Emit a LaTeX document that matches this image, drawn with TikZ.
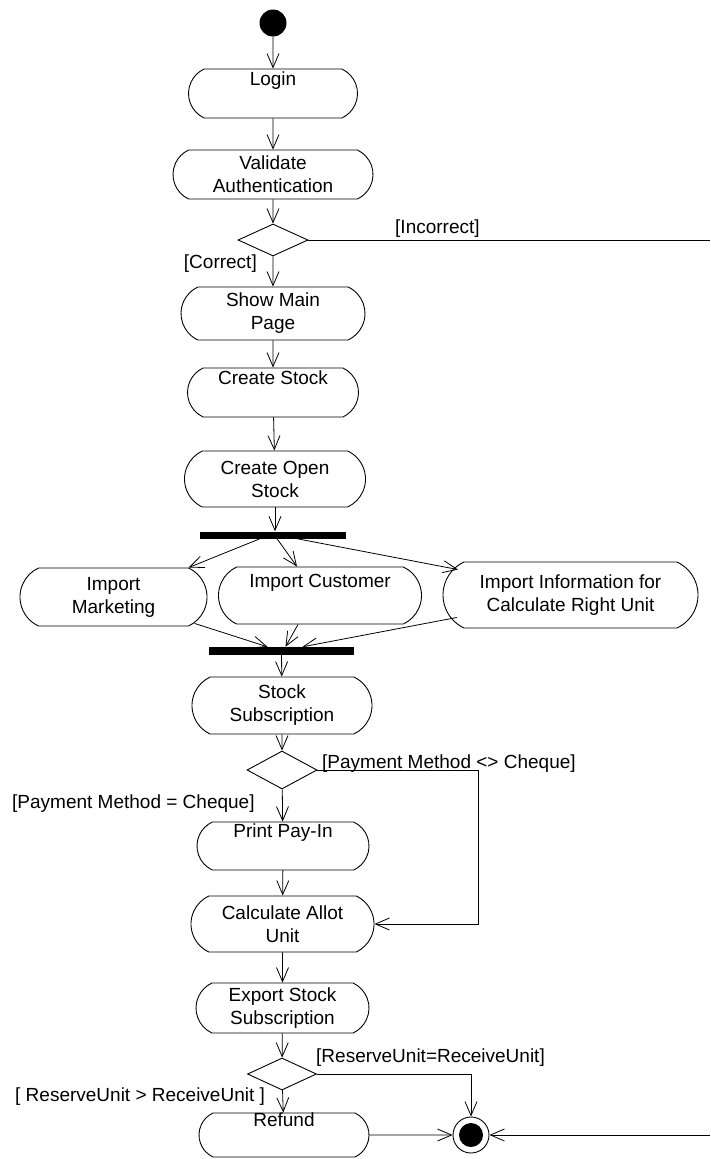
\documentclass[tikz,border=0pt]{standalone}
\usepackage{fontspec}
\setmainfont{Liberation Sans}
\usetikzlibrary{shapes.misc,shapes.geometric,arrows.meta,calc}
\begin{document}
\begin{tikzpicture}[x=1pt,y=-1pt,
  act/.style={draw, line width=0.9pt, rounded rectangle, rounded rectangle arc length=130, inner sep=0pt, align=center, font=\fontsize{19}{23}\selectfont},
  dec/.style={draw, diamond, line width=0.9pt, inner sep=0pt},
  bar/.style={fill=black, inner sep=0pt, rectangle},
  flow/.style={line width=0.8pt, -{Straight Barb[length=14pt,width=12pt,line width=0.8pt]}},
  plain/.style={line width=0.8pt},
  guard/.style={font=\fontsize{19}{23}\selectfont, inner sep=0pt},
]
\useasboundingbox (0,0) rectangle (710,1159);
% nodes
\node[circle, fill=black, minimum size=27pt, inner sep=0pt] (init) at (273,23) {};
\node[act, minimum width=169pt, minimum height=49pt] (login) at (273,93.5) {Login\\\strut};
\node[act, minimum width=200pt, minimum height=49pt] (val) at (273,174.5) {Validate\\Authentication};
\node[dec, minimum width=70pt, minimum height=32pt] (d1) at (273,240) {};
\node[act, minimum width=184pt, minimum height=53pt] (show) at (273,313.5) {Show Main\\Page};
\node[act, minimum width=171pt, minimum height=49pt] (cstock) at (273,392.5) {Create Stock\\\strut};
\node[act, minimum width=181pt, minimum height=56pt] (copen) at (275,479) {Create Open\\Stock};
\node[bar, minimum width=146pt, minimum height=7pt] (fork) at (273,535) {};
\node[act, minimum width=187pt, minimum height=58pt] (imk) at (113.5,597) {Import\\Marketing};
\node[act, minimum width=203pt, minimum height=57pt] (icu) at (320,595.5) {Import Customer\\\strut};
\node[act, minimum width=255pt, minimum height=66pt] (iinf) at (570.5,595) {Import Information for\\Calculate Right Unit};
\node[bar, minimum width=145pt, minimum height=8pt] (join) at (281.5,651) {};
\node[act, minimum width=180pt, minimum height=57pt] (ssub) at (282,705.5) {Stock\\Subscription};
\node[dec, minimum width=70pt, minimum height=38pt] (d2) at (282,770) {};
\node[act, minimum width=172pt, minimum height=48pt] (print) at (283,846) {Print Pay-In\\\strut};
\node[act, minimum width=183pt, minimum height=56pt] (calc) at (282.5,924) {Calculate Allot\\Unit};
\node[act, minimum width=173pt, minimum height=50pt] (exp) at (282.5,1008) {Export Stock\\Subscription};
\node[dec, minimum width=69pt, minimum height=32pt] (d3) at (282,1074) {};
\node[act, minimum width=170pt, minimum height=44pt] (ref) at (284,1135) {Refund\\\strut};
\node[circle, draw, line width=0.9pt, minimum size=36pt, inner sep=0pt] (final) at (471,1135) {};
\node[circle, fill=black, minimum size=24pt, inner sep=0pt] (finalin) at (final.center) {};
\coordinate (incEnd) at (710,240);
\coordinate (loopEnd) at (710,1135);
% guards
\node[guard, anchor=base west] (gInc) at (395,233) {[Incorrect]};
\node[guard, anchor=base east] (gCor) at (257,268) {[Correct]};
\node[guard, anchor=base west] (gPne) at (322,768) {[Payment Method <> Cheque]};
\node[guard, anchor=base west] (gPeq) at (12,808) {[Payment Method = Cheque]};
\node[guard, anchor=base west] (gReq) at (316,1062) {[ReserveUnit=ReceiveUnit]};
\node[guard, anchor=base west] (gRgt) at (15,1101) {[ ReserveUnit > ReceiveUnit ]};
% connectors
\draw[flow] (init) -- (login);
\draw[flow] (login) -- (val);
\draw[flow] (val) -- (d1);
\draw[plain] (d1.east) -- (incEnd);
\draw[flow] (d1) -- (show);
\draw[flow] (show) -- (cstock);
\draw[flow] (cstock) -- (copen);
\draw[flow] (copen.south) -- (copen.south |- fork.north);
\draw[flow] ($(fork.south)+(-13,0)$) -- (imk.north east);
\draw[flow] ($(fork.south)+(4,0)$) -- ($(icu.north)+(-23,0)$);
\draw[flow] ($(fork.south)+(24,0)$) -- ($(iinf.north west)+(-6,8)$);
\draw[flow] ($(imk.south east)+(6,-3)$) -- ($(join.north)+(-14,0)$);
\draw[flow] ($(icu.south)+(-22,0)$) -- ($(join.north)+(4,0)$);
\draw[flow] ($(iinf.south west)+(-7,-11)$) -- ($(join.north)+(21,0)$);
\draw[flow] (join) -- (ssub);
\draw[flow] (ssub) -- (d2);
\draw[flow] (d2) -- (print);
\draw[flow] (d2.east) -- ++(161,0) |- (calc.east);
\draw[flow] (print) -- (calc);
\draw[flow] (calc) -- (exp);
\draw[flow] (exp) -- (d3);
\draw[flow] (d3) -- (ref);
\draw[flow] (d3.east) -| (final.north);
\draw[flow] (ref) -- (final);
\draw[flow] (loopEnd) -- (final);
\end{tikzpicture}
\end{document}
